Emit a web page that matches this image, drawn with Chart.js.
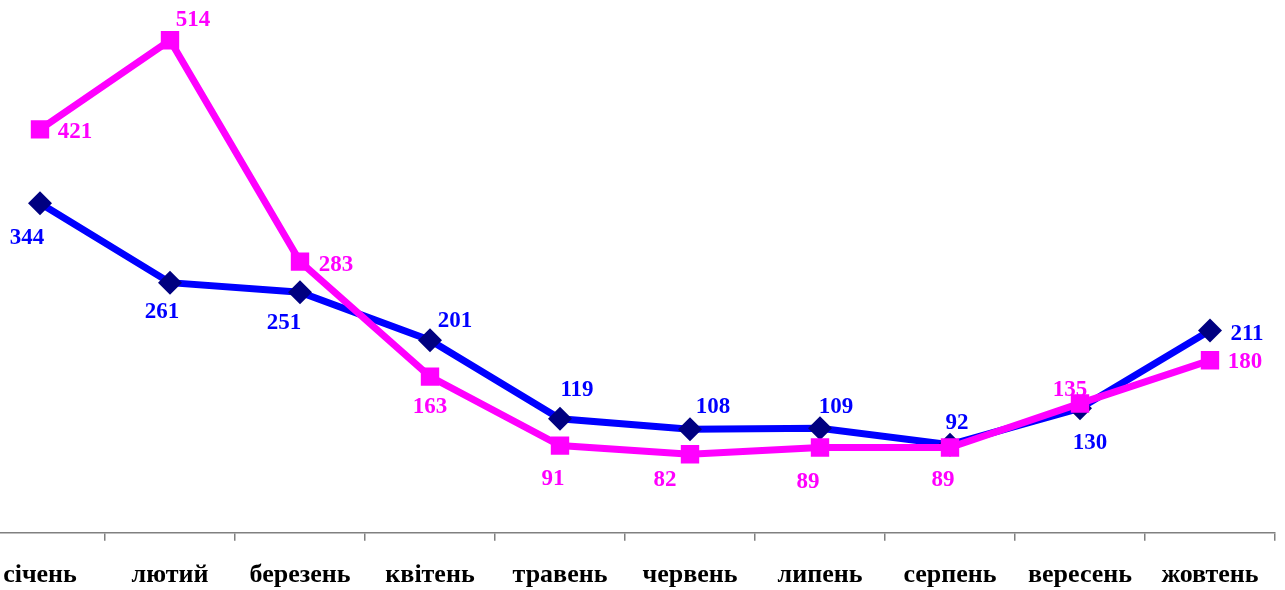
<!DOCTYPE html>
<html>
<head>
<meta charset="utf-8">
<script src="https://cdn.jsdelivr.net/npm/chart.js@4"></script>
<style>
  html, body { margin: 0; padding: 0; background: #fff; overflow: hidden; }
  /* canvas is a little wider/taller than the window: the plot starts left of the visible area */
  #wrap { position: absolute; left: -25px; top: 0; width: 1310px; height: 610px; }
</style>
</head>
<body>
<div id="wrap"><canvas id="lineChart"></canvas></div>
<script>
const months = ['січень', 'лютий', 'березень', 'квітень', 'травень', 'червень', 'липень', 'серпень', 'вересень', 'жовтень'];
const blueValues = [344, 261, 251, 201, 119, 108, 109, 92, 130, 211];
const pinkValues = [421, 514, 283, 163, 91, 82, 89, 89, 135, 180];

// label offsets from each point (px)
const blueLabelOffsets = [[-13, 35], [-8, 29], [-16, 31], [25, -19], [17, -29], [23, -22], [16, -21], [7, -22], [10, 35], [37, 3]];
const pinkLabelOffsets = [[35, 3], [23, -20], [36, 3], [0, 30], [-7, 33], [-25, 26], [-12, 35], [-7, 33], [-10, -13], [35, 2]];

const valueLabels = {
    id: 'valueLabels',
    afterDatasetsDraw(chart) {
        const ctx = chart.ctx;
        ctx.save();
        ctx.font = 'bold 23px "Liberation Serif", "Times New Roman", serif';
        ctx.textAlign = 'center';
        ctx.textBaseline = 'middle';
        chart.data.datasets.forEach((ds, i) => {
            const meta = chart.getDatasetMeta(i);
            ctx.fillStyle = ds.labelColor;
            meta.data.forEach((pt, j) => {
                const off = ds.labelOffsets[j];
                ctx.fillText(String(ds.data[j]), pt.x + off[0], pt.y + off[1]);
            });
        });
        ctx.restore();
    }
};

const ctx = document.getElementById('lineChart').getContext('2d');
const chart = new Chart(ctx, {
    type: 'line',
    data: {
        labels: months,
        datasets: [
            {
                data: pinkValues,
                borderColor: '#ff00ff',
                backgroundColor: '#ff00ff',
                borderWidth: 7,
                pointStyle: 'rect',
                pointRadius: 13,
                pointBorderWidth: 0,
                pointBackgroundColor: '#ff00ff',
                labelColor: '#ff00ff',
                labelOffsets: pinkLabelOffsets,
                tension: 0
            },
            {
                data: blueValues,
                borderColor: '#0000ff',
                backgroundColor: '#000080',
                borderWidth: 7,
                pointStyle: 'rectRot',
                pointRadius: 12,
                pointBorderWidth: 0,
                pointBackgroundColor: '#000080',
                labelColor: '#0000ff',
                labelOffsets: blueLabelOffsets,
                tension: 0
            }
        ]
    },
    options: {
        responsive: true,
        maintainAspectRatio: false,
        animation: false,
        layout: { autoPadding: false, padding: { left: 0, right: 10, top: 0, bottom: 0 } },
        plugins: {
            legend: { display: false },
            tooltip: { enabled: false }
        },
        scales: {
            x: {
                offset: true,
                grid: {
                    offset: true,
                    drawOnChartArea: false,
                    drawTicks: true,
                    tickLength: 8,
                    color: '#808080',
                    lineWidth: 1.5
                },
                border: { display: true, color: '#808080', width: 1.5 },
                ticks: {
                    color: '#000',
                    padding: 19,
                    maxRotation: 0,
                    autoSkip: false,
                    font: { family: '"Liberation Serif", "Times New Roman", serif', size: 26, weight: 'bold', lineHeight: 1.2 }
                }
            },
            y: {
                display: false,
                min: 0,
                max: 556
            }
        }
    },
    plugins: [valueLabels]
});
</script>
</body>
</html>
